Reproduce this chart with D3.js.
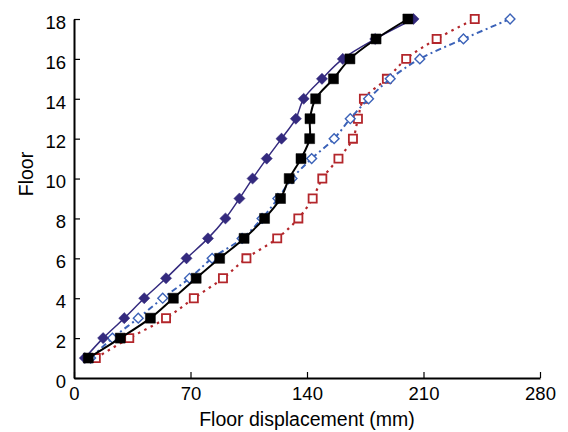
<!DOCTYPE html>
<html>
<head>
<meta charset="utf-8">
<script src="https://cdn.jsdelivr.net/npm/d3@7"></script>
<style>
  html, body { margin: 0; padding: 0; background: #fff; }
  text { font-family: "Liberation Sans", Arial, sans-serif; }
</style>
</head>
<body>
<div class="container"></div>
<script>
// floors 1..18
var floors = d3.range(1, 19);
// displacement per floor (mm)
var seriesA = [6.5, 17.5, 30.2, 42.2, 55.3, 67.6, 80.5, 91, 99.4, 107.3, 115.8, 124.7, 133.3, 138, 149, 161.5, 181, 204];
var seriesB = [8.6, 27.8, 45.9, 59.7, 73.4, 87.5, 102.2, 114.5, 124.1, 129.3, 136.4, 141.6, 141.8, 145.2, 155.9, 165.8, 181.5, 200.6];
var seriesC = [10, 23.1, 38.6, 53.3, 69.4, 83, 101, 113, 122.5, 131, 142.8, 156.3, 166, 177, 190, 207.8, 234, 262];
var seriesD = [13.1, 33.2, 55.3, 72, 89.5, 103.6, 122.1, 134.8, 143.4, 149.2, 158.9, 167.6, 170.6, 174.2, 188, 199.6, 217.9, 240.8];
var xTicks = [0, 70, 140, 210, 280];
var yTicks = [0, 2, 4, 6, 8, 10, 12, 14, 16, 18];

var width = 568, height = 432;
var margin = {left: 74, right: 28, top: 19, bottom: 54};

var svg = d3.select('.container')
  .append('svg')
  .attr('width', width)
  .attr('height', height);

var x = d3.scaleLinear().domain([0, 280]).range([margin.left, width - margin.right]);
var y = d3.scaleLinear().domain([0, 18]).range([height - margin.bottom, margin.top]);

// dotted ones first so the solid ones sit on top
var series = [
  {values: seriesD, color: '#b3262b', dash: '2.5,4.5', width: 2.2, shape: 'square', fill: false},
  {values: seriesC, color: '#3b62b8', dash: '6,3.5,2,3.5', width: 2, shape: 'diamond', fill: false},
  {values: seriesA, color: '#342a7e', dash: null, width: 1.5, shape: 'diamond', fill: true},
  {values: seriesB, color: '#000000', dash: null, width: 2, shape: 'square', fill: true}
];

var line = d3.line()
  .x(function(d) { return x(d.v); })
  .y(function(d) { return y(d.f); })
  .curve(d3.curveCatmullRom.alpha(0.5));

series.forEach(function(s) {
  var pts = s.values.map(function(v, i) { return {v: v, f: floors[i]}; });
  var g = svg.append('g');
  g.append('path')
    .datum(pts)
    .attr('d', line)
    .attr('fill', 'none')
    .attr('stroke', s.color)
    .attr('stroke-width', s.width)
    .attr('stroke-dasharray', s.dash);

  // diamonds are squares turned 45 degrees
  var size = s.shape == 'square' ? (s.fill ? 100 : 66) : (s.fill ? 62 : 48);
  var sym = d3.symbol().type(d3.symbolSquare).size(size);

  g.selectAll('path.mark')
    .data(pts)
    .enter()
    .append('path')
    .attr('class', 'mark')
    .attr('d', sym)
    .attr('transform', function(d) {
      var t = 'translate(' + x(d.v) + ',' + y(d.f) + ')';
      return s.shape == 'diamond' ? t + ' rotate(45)' : t;
    })
    .attr('fill', s.fill ? s.color : '#fff')
    .attr('stroke', s.color)
    .attr('stroke-width', s.fill ? 0.5 : (s.shape == 'square' ? 1.8 : 1.4));
});

// axes, ticks point inwards
var xAxis = svg.append('g')
  .attr('transform', 'translate(0,' + y(0) + ')')
  .call(d3.axisBottom(x).tickValues(xTicks).tickSizeInner(-6).tickSizeOuter(0).tickPadding(9));
var yAxis = svg.append('g')
  .attr('transform', 'translate(' + x(0) + ',0)')
  .call(d3.axisLeft(y).tickValues(yTicks).tickSizeInner(-6).tickSizeOuter(0).tickPadding(8));

[xAxis, yAxis].forEach(function(a) {
  a.select('.domain').attr('stroke', '#000').attr('stroke-width', 2);
  a.selectAll('.tick line').attr('stroke', '#000').attr('stroke-width', 1.2);
  a.selectAll('.tick text')
    .attr('font-size', 18.5)
    .attr('font-family', '"Liberation Sans", Arial, sans-serif')
    .attr('fill', '#000');
});
yAxis.selectAll('.tick text').attr('dy', '0.5em');

svg.append('text')
  .attr('x', (x(0) + x(280)) / 2)
  .attr('y', 426)
  .attr('text-anchor', 'middle')
  .attr('font-size', 19.5)
  .text('Floor displacement (mm)');

svg.append('text')
  .attr('transform', 'translate(33,174) rotate(-90)')
  .attr('text-anchor', 'middle')
  .attr('font-size', 19.5)
  .text('Floor');
</script>
</body>
</html>
